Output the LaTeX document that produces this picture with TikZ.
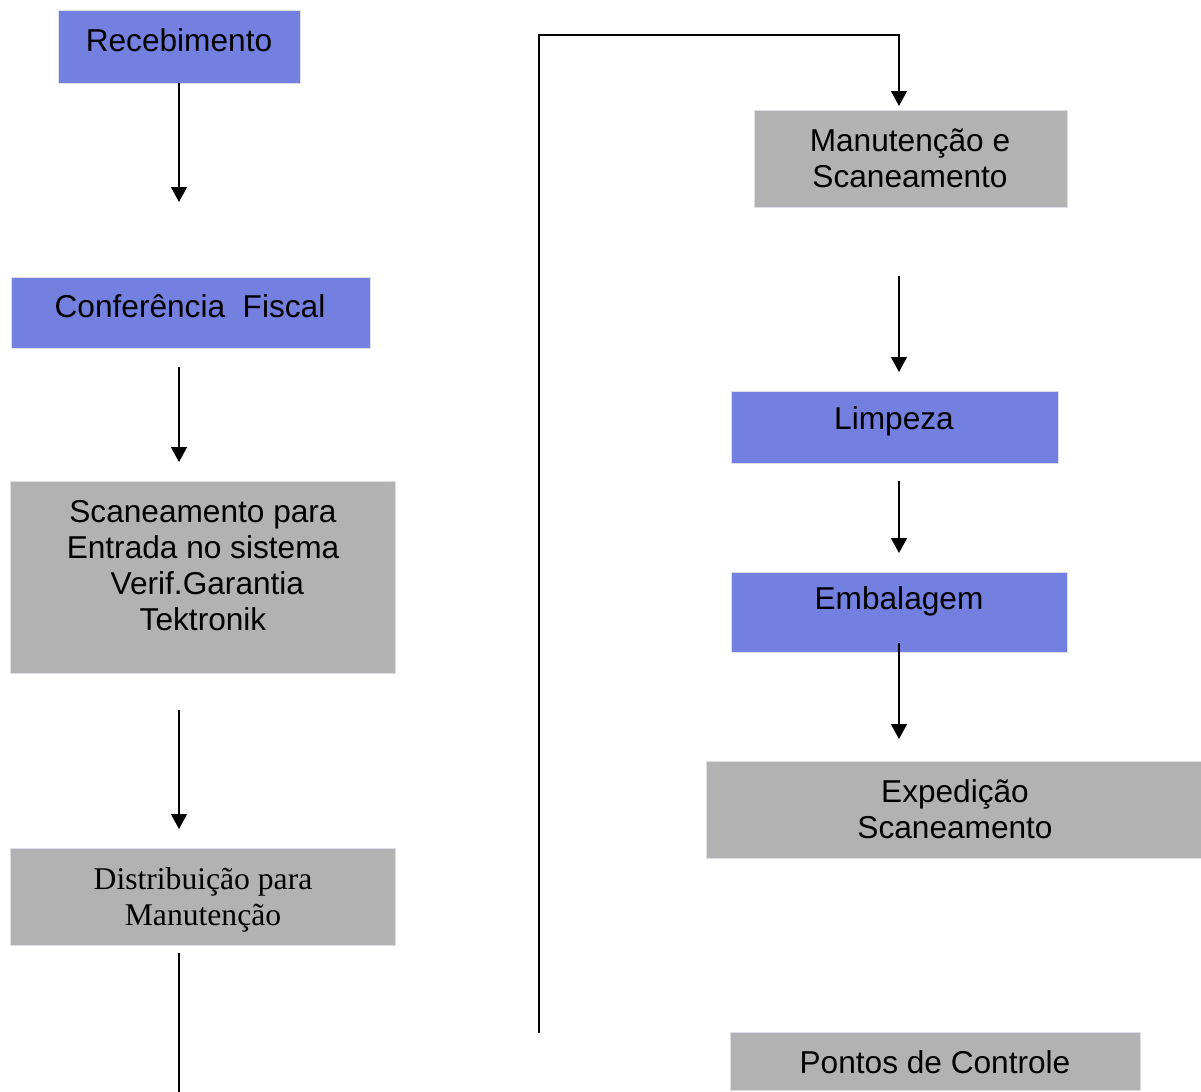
\documentclass[tikz,border=0pt]{standalone}
\usepackage{fontspec}
\setmainfont{Liberation Sans}
\newfontfamily\serifbox{Liberation Serif}
\usetikzlibrary{arrows.meta}

\definecolor{boxblue}{RGB}{115,128,224}
\definecolor{boxgray}{RGB}{178,178,178}
\definecolor{boxedge}{RGB}{222,222,230}

\tikzset{
  bluebox/.style={rectangle, fill=boxblue, draw=boxedge, line width=0.5pt, inner sep=0pt},
  graybox/.style={rectangle, fill=boxgray, draw=boxedge, line width=0.5pt, inner sep=0pt},
  txt/.style={font=\fontsize{18}{20.5}\selectfont, align=center, inner sep=0pt},
  flow/.style={line width=1pt, -{Triangle[width=9pt,length=8.5pt]}},
}

\begin{document}
\begin{tikzpicture}[x=0.02cm, y=-0.02cm]
  \useasboundingbox (0,0) rectangle (1201,1092);

  % left column
  \node[bluebox, minimum width=4.84cm, minimum height=1.46cm] (receb) at (179,46.5) {};
  \node[txt] (receb-t) at (179,40) {Recebimento};

  \node[bluebox, minimum width=7.18cm, minimum height=1.42cm] (conf) at (190.5,312.5) {};
  \node[txt] (conf-t) at (190,306) {Conferência~~Fiscal};

  \node[graybox, minimum width=7.7cm, minimum height=3.84cm] (scan) at (202.5,577) {};
  \node[txt] (scan-t) at (203,566) {Scaneamento para\\Entrada no sistema\\ \ Verif.Garantia\\Tektronik};

  \node[graybox, minimum width=7.7cm, minimum height=1.94cm] (distr) at (202.5,896.5) {};
  \node[txt, font=\serifbox\fontsize{18}{20.5}\selectfont] (distr-t) at (203,900) {Distribuição para\\Manutenção};

  % right column
  \node[graybox, minimum width=6.26cm, minimum height=1.94cm] (manut) at (910.5,158.5) {};
  \node[txt] (manut-t) at (910,158) {Manutenção e\\Scaneamento};

  \node[bluebox, minimum width=6.54cm, minimum height=1.44cm] (limp) at (894.5,427) {};
  \node[txt] (limp-t) at (894,421) {Limpeza};

  \node[bluebox, minimum width=6.72cm, minimum height=1.6cm] (embal) at (899,612) {};
  \node[txt] (embal-t) at (899,601) {Embalagem};

  \node[graybox, minimum width=9.9cm, minimum height=1.94cm] (exped) at (953.5,809.5) {};
  \node[txt] (exped-t) at (955,809) {Expedição\\Scaneamento};

  \node[graybox, minimum width=8.2cm, minimum height=1.16cm] (pontos) at (935,1061) {};
  \node[txt] (pontos-t) at (935,1062) {Pontos de Controle};

  % connector ends
  \coordinate (a1e) at (179,202);
  \coordinate (a2s) at (179,367);
  \coordinate (a2e) at (179,462);
  \coordinate (a3s) at (179,710);
  \coordinate (a3e) at (179,829);
  \coordinate (l4s) at (179,953);
  \coordinate (l4e) at (179,1092);
  \coordinate (back) at (539,1033);
  \coordinate (top) at (899,35);
  \coordinate (a5e) at (899,106);
  \coordinate (a6s) at (899,276);
  \coordinate (a6e) at (899,372);
  \coordinate (a7s) at (899,481);
  \coordinate (a7e) at (899,553);
  \coordinate (a8s) at (899,643);
  \coordinate (a8e) at (899,739);

  \draw[flow] (receb.south) -- (a1e);
  \draw[flow] (a2s) -- (a2e);
  \draw[flow] (a3s) -- (a3e);
  \draw[line width=1pt] (l4s) -- (l4e);
  \draw[flow] (back) |- (top) -- (a5e);
  \draw[flow] (a6s) -- (a6e);
  \draw[flow] (a7s) -- (a7e);
  \draw[flow] (a8s) -- (a8e);
\end{tikzpicture}
\end{document}
